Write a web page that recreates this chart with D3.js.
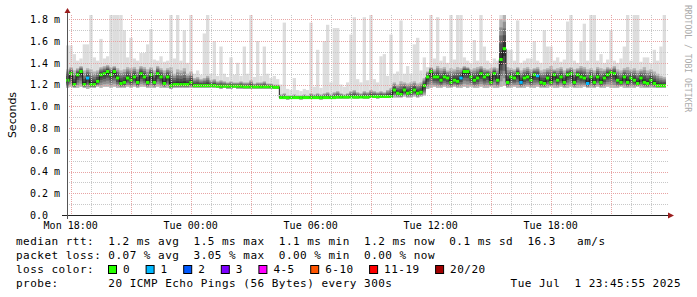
<!DOCTYPE html>
<html>
<head>
<meta charset="utf-8">
<script src="https://cdn.jsdelivr.net/npm/d3@7"></script>
<style>
  body { margin: 0; background: #fff; }
  text { font-family: "DejaVu Sans Mono", monospace; fill: #000; }
</style>
</head>
<body>
<div id="chart"></div>
<script>
// 30 hours of 10 minute steps (Mon 17:45:55 .. Tue 23:45:55)
const startTime = new Date(2025, 5, 30, 17, 45, 55);
const endTime = new Date(2025, 6, 1, 23, 45, 55);
const stepMinutes = 10;

// median rtt per step (ms)
const median = [
    1.24, 1.30, 1.20, 1.29, 1.32, 1.20, 1.26, 1.20, 1.20, 1.23,
    1.29, 1.30, 1.32, 1.29, 1.32, 1.26, 1.21, 1.22, 1.26, 1.24,
    1.27, 1.22, 1.30, 1.27, 1.22, 1.29, 1.22, 1.30, 1.27, 1.21,
    1.27, 1.19, 1.20, 1.20, 1.20, 1.20, 1.20, 1.22, 1.19, 1.19,
    1.19, 1.19, 1.19, 1.19, 1.19, 1.185, 1.185, 1.185, 1.185, 1.185,
    1.185, 1.185, 1.185, 1.18, 1.18, 1.18, 1.18, 1.18, 1.18, 1.18,
    1.18, 1.18, 1.175, 1.175, 1.08, 1.08, 1.08, 1.08, 1.08, 1.08,
    1.08, 1.08, 1.08, 1.08, 1.08, 1.08, 1.08, 1.08, 1.08, 1.08,
    1.08, 1.085, 1.085, 1.085, 1.085, 1.085, 1.085, 1.085, 1.085, 1.085,
    1.085, 1.09, 1.09, 1.09, 1.09, 1.09, 1.09, 1.09, 1.15, 1.12,
    1.11, 1.15, 1.12, 1.13, 1.15, 1.12, 1.13, 1.19, 1.27, 1.32,
    1.27, 1.27, 1.24, 1.27, 1.26, 1.22, 1.24, 1.23, 1.26, 1.32,
    1.32, 1.27, 1.24, 1.26, 1.30, 1.27, 1.29, 1.22, 1.30, 1.24,
    1.43, 1.53, 1.22, 1.27, 1.26, 1.30, 1.22, 1.26, 1.27, 1.24,
    1.29, 1.28, 1.22, 1.21, 1.26, 1.22, 1.29, 1.24, 1.27, 1.22,
    1.29, 1.30, 1.22, 1.29, 1.27, 1.26, 1.21, 1.27, 1.22, 1.27,
    1.22, 1.26, 1.29, 1.31, 1.30, 1.24, 1.22, 1.27, 1.22, 1.26,
    1.24, 1.21, 1.26, 1.22, 1.21, 1.24, 1.21, 1.19, 1.19, 1.19
];

// fastest ping per step (ms)
const pingMin = [
    1.17, 1.18, 1.17, 1.17, 1.18, 1.17, 1.16, 1.17, 1.17, 1.18,
    1.17, 1.18, 1.18, 1.17, 1.18, 1.17, 1.17, 1.17, 1.18, 1.17,
    1.18, 1.17, 1.18, 1.18, 1.17, 1.17, 1.17, 1.18, 1.17, 1.17,
    1.17, 1.16, 1.17, 1.17, 1.17, 1.17, 1.17, 1.17, 1.17, 1.17,
    1.17, 1.17, 1.17, 1.17, 1.17, 1.17, 1.16, 1.17, 1.16, 1.16,
    1.17, 1.16, 1.16, 1.16, 1.16, 1.16, 1.16, 1.16, 1.16, 1.16,
    1.16, 1.16, 1.16, 1.16, 1.07, 1.07, 1.06, 1.07, 1.07, 1.07,
    1.06, 1.07, 1.07, 1.07, 1.07, 1.07, 1.06, 1.07, 1.07, 1.07,
    1.07, 1.07, 1.07, 1.07, 1.07, 1.08, 1.07, 1.07, 1.08, 1.07,
    1.07, 1.08, 1.08, 1.07, 1.08, 1.08, 1.08, 1.08, 1.08, 1.08,
    1.08, 1.09, 1.08, 1.08, 1.09, 1.08, 1.09, 1.10, 1.16, 1.17,
    1.18, 1.17, 1.17, 1.18, 1.17, 1.17, 1.18, 1.17, 1.17, 1.18,
    1.17, 1.18, 1.17, 1.17, 1.18, 1.17, 1.17, 1.18, 1.17, 1.17,
    1.18, 1.19, 1.17, 1.17, 1.18, 1.17, 1.17, 1.17, 1.18, 1.17,
    1.17, 1.18, 1.17, 1.17, 1.17, 1.18, 1.17, 1.17, 1.18, 1.17,
    1.17, 1.18, 1.17, 1.17, 1.17, 1.18, 1.17, 1.17, 1.17, 1.18,
    1.17, 1.17, 1.18, 1.17, 1.17, 1.17, 1.18, 1.17, 1.17, 1.17,
    1.17, 1.18, 1.17, 1.17, 1.17, 1.17, 1.17, 1.17, 1.17, 1.17
];

// upper edge of the dense smoke (ms)
const smokeHi = [
    1.34, 1.36, 1.33, 1.35, 1.37, 1.33, 1.35, 1.34, 1.32, 1.33,
    1.36, 1.37, 1.38, 1.36, 1.37, 1.35, 1.33, 1.34, 1.36, 1.35,
    1.36, 1.34, 1.37, 1.36, 1.34, 1.36, 1.33, 1.37, 1.35, 1.33,
    1.35, 1.36, 1.30, 1.34, 1.33, 1.35, 1.30, 1.32, 1.26, 1.27,
    1.25, 1.26, 1.28, 1.24, 1.25, 1.23, 1.24, 1.23, 1.22, 1.23,
    1.22, 1.22, 1.23, 1.22, 1.22, 1.24, 1.21, 1.22, 1.22, 1.23,
    1.21, 1.21, 1.20, 1.20, 1.11, 1.12, 1.10, 1.10, 1.11, 1.10,
    1.10, 1.11, 1.10, 1.12, 1.11, 1.12, 1.11, 1.12, 1.13, 1.11,
    1.13, 1.14, 1.12, 1.11, 1.12, 1.14, 1.15, 1.13, 1.12, 1.14,
    1.13, 1.15, 1.14, 1.13, 1.14, 1.13, 1.15, 1.17, 1.22, 1.20,
    1.23, 1.22, 1.21, 1.22, 1.23, 1.21, 1.22, 1.26, 1.32, 1.36,
    1.34, 1.37, 1.35, 1.36, 1.33, 1.35, 1.34, 1.36, 1.35, 1.37,
    1.36, 1.34, 1.35, 1.36, 1.37, 1.35, 1.34, 1.35, 1.36, 1.35,
    1.80, 1.84, 1.36, 1.35, 1.34, 1.36, 1.33, 1.35, 1.36, 1.34,
    1.35, 1.36, 1.33, 1.34, 1.35, 1.37, 1.34, 1.35, 1.36, 1.33,
    1.35, 1.36, 1.34, 1.35, 1.37, 1.36, 1.34, 1.35, 1.33, 1.36,
    1.35, 1.34, 1.36, 1.35, 1.37, 1.34, 1.33, 1.35, 1.36, 1.34,
    1.35, 1.33, 1.34, 1.36, 1.33, 1.34, 1.32, 1.30, 1.28, 1.27
];

// slowest ping per step (ms)
const pingMax = [
    1.56, 1.56, 1.48, 1.42, 1.44, 1.57, 1.57, 1.84, 1.45, 1.42,
    1.62, 1.44, 1.46, 1.84, 1.84, 1.84, 1.84, 1.70, 1.45, 1.63,
    1.44, 1.42, 1.49, 1.49, 1.57, 1.71, 1.43, 1.42, 1.46, 1.41,
    1.42, 1.84, 1.44, 1.84, 1.42, 1.70, 1.40, 1.84, 1.30, 1.33,
    1.29, 1.67, 1.84, 1.30, 1.60, 1.28, 1.55, 1.30, 1.27, 1.45,
    1.29, 1.40, 1.28, 1.55, 1.30, 1.84, 1.27, 1.60, 1.28, 1.55,
    1.30, 1.26, 1.28, 1.25, 1.20, 1.77, 1.16, 1.15, 1.26, 1.15,
    1.14, 1.16, 1.15, 1.77, 1.18, 1.52, 1.17, 1.60, 1.75, 1.22,
    1.72, 1.72, 1.20, 1.18, 1.22, 1.66, 1.82, 1.25, 1.22, 1.82,
    1.24, 1.84, 1.25, 1.22, 1.46, 1.48, 1.28, 1.66, 1.30, 1.32,
    1.79, 1.30, 1.37, 1.30, 1.57, 1.63, 1.33, 1.45, 1.36, 1.84,
    1.44, 1.82, 1.42, 1.46, 1.40, 1.84, 1.43, 1.84, 1.84, 1.45,
    1.42, 1.40, 1.61, 1.42, 1.84, 1.55, 1.42, 1.40, 1.44, 1.42,
    1.84, 1.84, 1.52, 1.52, 1.42, 1.79, 1.40, 1.42, 1.44, 1.44,
    1.60, 1.42, 1.40, 1.70, 1.55, 1.55, 1.42, 1.45, 1.41, 1.43,
    1.78, 1.84, 1.42, 1.40, 1.60, 1.76, 1.42, 1.84, 1.84, 1.42,
    1.48, 1.40, 1.43, 1.70, 1.42, 1.40, 1.44, 1.55, 1.84, 1.42,
    1.84, 1.84, 1.41, 1.45, 1.45, 1.40, 1.52, 1.42, 1.55, 1.84
];

// [step index, lost pings out of 20]
const lossEvents = [[6, 1], [118, 1], [136, 1], [141, 1], [156, 1]];

const yTicks = [0, 0.2, 0.4, 0.6, 0.8, 1.0, 1.2, 1.4, 1.6, 1.8];
const xLabelTimes = [
    new Date(2025, 5, 30, 18), new Date(2025, 6, 1, 0), new Date(2025, 6, 1, 6),
    new Date(2025, 6, 1, 12), new Date(2025, 6, 1, 18)
];

const lossLabels = ['0', '1', '2', '3', '4-5', '6-10', '11-19', '20/20'];
const lossColors = ['#26ff00', '#00b8ff', '#0059ff', '#7e00ff', '#ff00ff', '#ff5500', '#ff0000', '#a10000'];

const legendLines = [
    'median rtt:  1.2 ms avg  1.5 ms max  1.1 ms min  1.2 ms now  0.1 ms sd  16.3   am/s',
    'packet loss: 0.07 % avg  3.05 % max  0.00 % min  0.00 % now',
    'loss color:',
    'probe:       20 ICMP Echo Pings (56 Bytes) every 300s'
];
const stampText = 'Tue Jul  1 23:45:55 2025';

const width = 697, height = 297;
const svg = d3.select('#chart').append('svg')
    .attr('width', width)
    .attr('height', height)
    .style('display', 'block');

const x = d3.scaleTime().domain([startTime, endTime]).range([66, 666]);
const y = d3.scaleLinear().domain([0, 1.84]).range([215, 15]);

const lossMap = new Map(lossEvents);
function lossBucket(n) {
    if (n <= 3) return n;
    if (n <= 5) return 4;
    if (n <= 10) return 5;
    if (n <= 19) return 6;
    return 7;
}

const steps = median.map((m, i) => ({
    t0: d3.timeMinute.offset(startTime, i * stepMinutes),
    t1: d3.timeMinute.offset(startTime, (i + 1) * stepMinutes),
    med: m,
    lo: pingMin[i],
    hi: smokeHi[i],
    max: pingMax[i],
    loss: lossMap.get(i) || 0
}));

// light grey: full spread of the pings
svg.append('g')
    .selectAll('rect')
    .data(steps)
    .join('rect')
    .attr('x', d => x(d.t0))
    .attr('width', d => x(d.t1) - x(d.t0))
    .attr('y', d => y(d.max))
    .attr('height', d => y(d.lo) - y(d.max))
    .attr('fill', '#dddddd');

// smoke, darker towards the median
const smokeShades = [
    [1.0, '#b4b4b4'], [0.8, '#909090'], [0.6, '#6e6e6e'], [0.4, '#4e4e4e'], [0.2, '#303030']
];
smokeShades.forEach(([k, col]) => {
    svg.append('g')
        .selectAll('rect')
        .data(steps)
        .join('rect')
        .attr('x', d => x(d.t0))
        .attr('width', d => x(d.t1) - x(d.t0))
        .attr('y', d => y(d.med + k * (d.hi - d.med)))
        .attr('height', d => y(d.med - k * (d.med - d.lo)) - y(d.med + k * (d.hi - d.med)))
        .attr('fill', col);
});

// dark joins between the median steps
const medPts = steps.map(d => [x(d.t0), y(d.med)]);
medPts.push([x(endTime), y(median[median.length - 1])]);
svg.append('path')
    .attr('d', d3.line().curve(d3.curveStepAfter)(medPts))
    .attr('fill', 'none')
    .attr('stroke', '#1a1a1a')
    .attr('stroke-width', 1);

// median, coloured by loss
svg.append('g')
    .selectAll('rect')
    .data(steps)
    .join('rect')
    .attr('x', d => x(d.t0))
    .attr('width', d => x(d.t1) - x(d.t0))
    .attr('y', d => y(d.med) - 1.5)
    .attr('height', 3)
    .attr('fill', d => lossColors[lossBucket(d.loss)]);

// grid
const grid = svg.append('g').attr('fill', 'none').attr('stroke-dasharray', '1,1');
const minorY = d3.range(1, 19).filter(v => v % 2 === 1).map(v => v / 10);
grid.selectAll('.hminor')
    .data(minorY)
    .join('line')
    .attr('x1', 67).attr('x2', 668)
    .attr('y1', d => Math.round(y(d)) + 0.5).attr('y2', d => Math.round(y(d)) + 0.5)
    .attr('stroke', '#c8c8c8');
const hourTicks = x.ticks(d3.timeHour.every(1));
grid.selectAll('.vgrid')
    .data(hourTicks)
    .join('line')
    .attr('x1', d => Math.round(x(d)) + 0.5).attr('x2', d => Math.round(x(d)) + 0.5)
    .attr('y1', 15).attr('y2', 215)
    .attr('stroke', d => d.getHours() % 3 === 0 ? '#e8a4a4' : '#c8c8c8');
grid.selectAll('.hmajor')
    .data(yTicks.slice(1))
    .join('line')
    .attr('x1', 67).attr('x2', 668)
    .attr('y1', d => Math.round(y(d)) + 0.5).attr('y2', d => Math.round(y(d)) + 0.5)
    .attr('stroke', '#e8a4a4');

// axes lines and arrows
svg.append('line')
    .attr('x1', 62).attr('x2', 669).attr('y1', 215.5).attr('y2', 215.5)
    .attr('stroke', '#222');
svg.append('line')
    .attr('x1', 67.5).attr('x2', 67.5).attr('y1', 219).attr('y2', 12)
    .attr('stroke', '#555');
svg.append('path').attr('d', 'M64.5,13L67.5,8L70.5,13Z').attr('fill', '#9b1e1e');
svg.append('path').attr('d', 'M668,212.5L674,215.5L668,218.5Z').attr('fill', '#9b1e1e');

// y labels
svg.append('g')
    .selectAll('text')
    .data(yTicks)
    .join('text')
    .attr('x', 30)
    .attr('y', d => y(d) + 3.8)
    .style('font-size', '10px')
    .text(d => d === 0 ? '0.0' : d3.format('.1f')(d) + ' m');

// x labels
svg.append('g')
    .selectAll('text')
    .data(xLabelTimes)
    .join('text')
    .attr('x', d => x(d))
    .attr('y', 228.5)
    .attr('text-anchor', 'middle')
    .style('font-size', '10px')
    .text(d => d3.timeFormat('%a %H:%M')(d));

svg.append('text')
    .attr('transform', 'translate(15.5,115) rotate(-90)')
    .attr('text-anchor', 'middle')
    .style('font-family', '"DejaVu Sans", sans-serif')
    .style('font-size', '11px')
    .text('Seconds');

svg.append('text')
    .attr('transform', 'translate(685,5) rotate(90)')
    .style('font-size', '8.1px')
    .style('fill', '#aaaaaa')
    .text('RRDTOOL / TOBI OETIKER');

// legend
const lineY = [245, 259, 273, 287];
svg.append('g')
    .selectAll('text')
    .data(legendLines)
    .join('text')
    .attr('x', 16)
    .attr('y', (d, i) => lineY[i])
    .style('font-size', '11px')
    .style('letter-spacing', '0.48px')
    .style('white-space', 'pre')
    .text(d => d);

let cursor = 108;
const swatches = svg.append('g');
lossLabels.forEach((lab, i) => {
    swatches.append('rect')
        .attr('x', cursor + 0.5).attr('y', 265.5)
        .attr('width', 8).attr('height', 8)
        .attr('fill', lossColors[i])
        .attr('stroke', '#000');
    swatches.append('text')
        .attr('x', cursor + 15)
        .attr('y', lineY[2])
        .style('font-size', '11px')
        .style('letter-spacing', '0.48px')
        .text(lab);
    cursor += 15 + lab.length * 7.1 + 15.5;
});

svg.append('text')
    .attr('x', 681)
    .attr('y', lineY[3])
    .attr('text-anchor', 'end')
    .style('font-size', '11px')
    .style('letter-spacing', '0.48px')
    .style('white-space', 'pre')
    .text(stampText);
</script>
</body>
</html>
